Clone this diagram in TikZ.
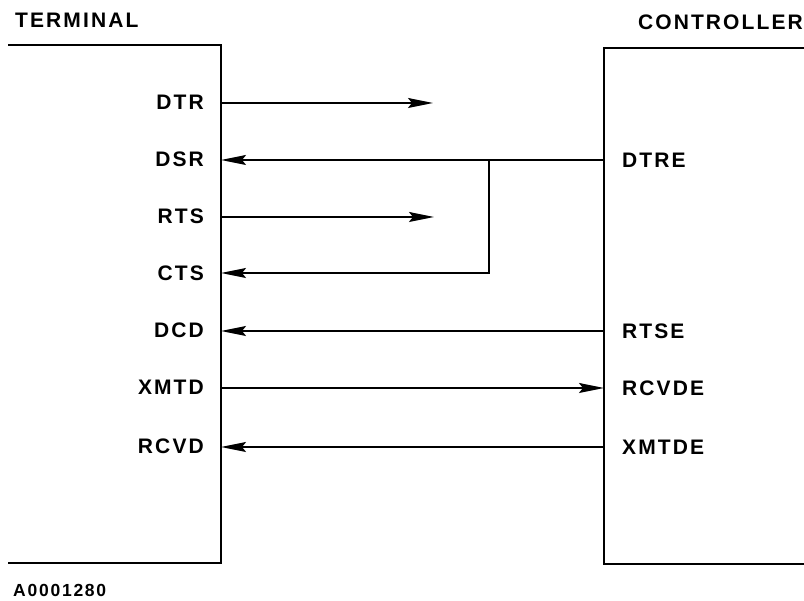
\documentclass[tikz,border=0pt]{standalone}
\usepackage{fontspec}
\setmainfont{Liberation Sans}[LetterSpace=10]
\usetikzlibrary{arrows.meta}
\begin{document}
\begin{tikzpicture}[x=1pt,y=-1pt,
  boxline/.style={line width=2.8pt, line cap=rect, line join=miter},
  sig/.style={line width=1.6pt, -{Stealth[length=25pt,width=10pt,inset=4pt]}},
  lbl/.style={font=\fontsize{21}{24}\selectfont\bfseries, inner sep=0pt},
  llbl/.style={lbl, anchor=base east},
  rlbl/.style={lbl, anchor=base west},
  foot/.style={font=\fontsize{17.5}{20}\selectfont\bfseries, inner sep=0pt, anchor=base west}]
\useasboundingbox (0,0) rectangle (804,601);
% titles
\node[lbl, anchor=base west] (terminal) at (15,28) {TERMINAL};
\node[lbl, anchor=base east] (controller) at (803,30) {CONTROLLER};
\node[foot] (code) at (13,597) {A0001280};
% boxes
\draw[boxline] (9,45) -- (221,45) -- (221,563) -- (9,563);
\draw[boxline] (806,48) -- (604,48) -- (604,564) -- (806,564);
% left labels
\node[llbl] (tDTR) at (204,110) {DTR};
\node[llbl] (tDSR) at (204,167) {DSR};
\node[llbl] (tRTS) at (204,224) {RTS};
\node[llbl] (tCTS) at (204,281) {CTS};
\node[llbl] (tDCD) at (204,338) {DCD};
\node[llbl] (tXMTD) at (204,395) {XMTD};
\node[llbl] (tRCVD) at (204,454) {RCVD};
% right labels
\node[rlbl] (cDTRE) at (622,168) {DTRE};
\node[rlbl] (cRTSE) at (622,339) {RTSE};
\node[rlbl] (cRCVDE) at (622,396) {RCVDE};
\node[rlbl] (cXMTDE) at (622,455) {XMTDE};
% pin coordinates on the box edges
\coordinate (pDTR) at (221,103);
\coordinate (pDSR) at (221,160);
\coordinate (pRTS) at (221,217);
\coordinate (pCTS) at (221,273);
\coordinate (pDCD) at (221,331);
\coordinate (pXMTD) at (221,388);
\coordinate (pRCVD) at (221,447);
\coordinate (qDTRE) at (604,160);
\coordinate (qRTSE) at (604,331);
\coordinate (qRCVDE) at (604,388);
\coordinate (qXMTDE) at (604,447);
\coordinate (eDTR) at (433,103);
\coordinate (eRTS) at (434,217);
\coordinate (jDSR) at (489,160);
% connectors
\draw[sig] (pDTR) -- (eDTR);
\draw[sig] (qDTRE) -- (pDSR);
\draw[sig] (pRTS) -- (eRTS);
\draw[sig] (jDSR) |- (pCTS);
\draw[sig] (qRTSE) -- (pDCD);
\draw[sig] (pXMTD) -- (qRCVDE);
\draw[sig] (qXMTDE) -- (pRCVD);
\end{tikzpicture}
\end{document}
